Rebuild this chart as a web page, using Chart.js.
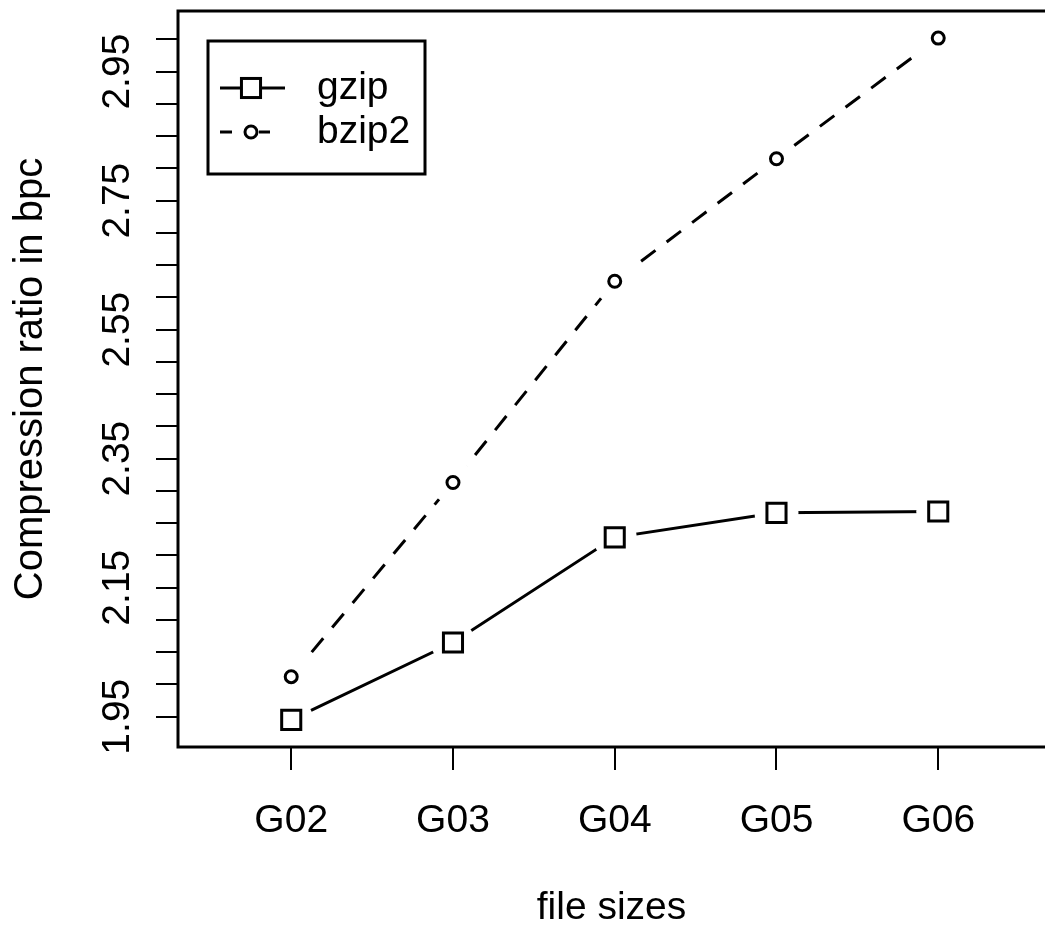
<!DOCTYPE html>
<html>
<head>
<meta charset="utf-8">
<script src="https://cdn.jsdelivr.net/npm/chart.js@4/dist/chart.umd.min.js"></script>
<style>
    html, body { margin: 0; padding: 0; background: #fff; overflow: hidden; }
    canvas { display: block; }
</style>
</head>
<body>
<canvas id="chart" width="1045" height="934"></canvas>
<script>
const categories = ['G02', 'G03', 'G04', 'G05', 'G06'];
const gzipValues = [1.945, 2.065, 2.228, 2.266, 2.268];
const bzip2Values = [2.012, 2.313, 2.625, 2.815, 3.002];
const yTickValues = [1.95, 2.00, 2.05, 2.10, 2.15, 2.20, 2.25, 2.30, 2.35, 2.40, 2.45,
    2.50, 2.55, 2.60, 2.65, 2.70, 2.75, 2.80, 2.85, 2.90, 2.95, 3.00];
const yTickLabels = ['1.95', '2.15', '2.35', '2.55', '2.75', '2.95'];

const FONT = { family: "'Liberation Sans', Arial, sans-serif", size: 39 };

Chart.defaults.font.family = FONT.family;
Chart.defaults.font.size = FONT.size;
Chart.defaults.color = '#000';

function points(values) {
    return values.map((v, i) => ({ x: i + 1, y: v }));
}

// R type="b": line, then a white gap round each point, then the marker
function seriesDatasets(label, values, pointStyle, radius, dash) {
    return [
        { label: label, data: points(values), borderColor: '#000', borderWidth: 3, borderDash: dash,
          pointRadius: 0, order: 3, legendStyle: pointStyle, legendRadius: radius },
        { label: label + ' gap', data: points(values), showLine: false, pointRadius: 22,
          pointBackgroundColor: '#fff', pointBorderColor: '#fff', pointBorderWidth: 0, order: 2 },
        { label: label + ' marker', data: points(values), showLine: false, pointStyle: pointStyle,
          pointRadius: radius, pointBackgroundColor: 'rgba(0,0,0,0)', pointBorderColor: '#000',
          pointBorderWidth: 3, order: 1 }
    ];
}

function noPadding(s) {
    s.paddingTop = 0;
    s.paddingBottom = 0;
    s.paddingLeft = 0;
    s.paddingRight = 0;
}

const boxPlugin = {
    id: 'box',
    afterDraw(chart) {
        const { ctx, chartArea: a } = chart;
        ctx.save();
        ctx.strokeStyle = '#000';
        ctx.lineWidth = 3;
        // the plot box runs just past the right edge of the picture
        ctx.strokeRect(a.left, a.top, a.right - a.left + 6, a.bottom - a.top);

        // legend in the top-left corner
        const lx = a.left + 30, ly = a.top + 30, lw = 217, lh = 133;
        ctx.fillStyle = '#fff';
        ctx.fillRect(lx, ly, lw, lh);
        ctx.strokeRect(lx, ly, lw, lh);
        const entries = chart.data.datasets.filter(d => d.legendStyle);
        entries.forEach((d, i) => {
            const y = ly + 47 + i * 44;
            const dashed = d.borderDash && d.borderDash.length;
            ctx.setLineDash(dashed ? [12, 27, 11, 100] : []);
            ctx.lineWidth = 3;
            ctx.beginPath();
            ctx.moveTo(lx + 12, y);
            ctx.lineTo(lx + 77, y);
            ctx.stroke();
            ctx.setLineDash([]);
            const mx = lx + 43;
            if (d.legendStyle === 'rect') {
                const s = d.legendRadius * Math.SQRT1_2;
                ctx.fillStyle = '#fff';
                ctx.fillRect(mx - s, y - s, 2 * s, 2 * s);
                ctx.strokeRect(mx - s, y - s, 2 * s, 2 * s);
            } else {
                ctx.fillStyle = '#fff';
                ctx.beginPath();
                ctx.arc(mx, y, d.legendRadius, 0, Math.PI * 2);
                ctx.fill();
                ctx.stroke();
            }
            ctx.fillStyle = '#000';
            ctx.font = `${FONT.size}px ${FONT.family}`;
            ctx.textBaseline = 'middle';
            ctx.textAlign = 'left';
            ctx.fillText(d.label, lx + 109, y);
        });
        ctx.restore();
    }
};

const ctx = document.getElementById('chart').getContext('2d');
new Chart(ctx, {
    type: 'line',
    data: {
        datasets: [
            ...seriesDatasets('gzip', gzipValues, 'rect', 13.5, []),
            ...seriesDatasets('bzip2', bzip2Values, 'circle', 6, [18, 14])
        ]
    },
    options: {
        responsive: false,
        animation: false,
        layout: { autoPadding: false, padding: { top: 11, right: 0, left: 0, bottom: 0 } },
        plugins: { legend: { display: false }, tooltip: { enabled: false } },
        scales: {
            x: {
                type: 'linear',
                min: 0.3,
                max: 5.66,
                afterBuildTicks: s => { s.ticks = categories.map((c, i) => ({ value: i + 1 })); },
                afterFit: s => { s.height = 187; noPadding(s); },
                ticks: {
                    callback: v => categories[Math.round(v) - 1],
                    autoSkip: false, maxRotation: 0, padding: 28, color: '#000'
                },
                grid: { drawOnChartArea: false, tickLength: 23, color: '#000', lineWidth: 2 },
                border: { display: false },
                title: { display: true, text: 'file sizes', color: '#000', padding: { top: 0, bottom: 2 } }
            },
            y: {
                type: 'linear',
                min: 1.903,
                max: 3.044,
                afterBuildTicks: s => { s.ticks = yTickValues.map(v => ({ value: v })); },
                afterFit: s => { s.width = 178; noPadding(s); },
                ticks: {
                    callback: v => yTickLabels.includes(v.toFixed(2)) ? v.toFixed(2) : '',
                    autoSkip: false, minRotation: 90, maxRotation: 90, crossAlign: 'center',
                    padding: 0, color: '#000'
                },
                grid: { drawOnChartArea: false, tickLength: 22, color: '#000', lineWidth: 2 },
                border: { display: false },
                title: {
                    display: true, text: 'Compression ratio in bpc', color: '#000',
                    font: { size: 40 }, padding: { top: 7, bottom: 0 }
                }
            }
        }
    },
    plugins: [boxPlugin]
});
</script>
</body>
</html>
